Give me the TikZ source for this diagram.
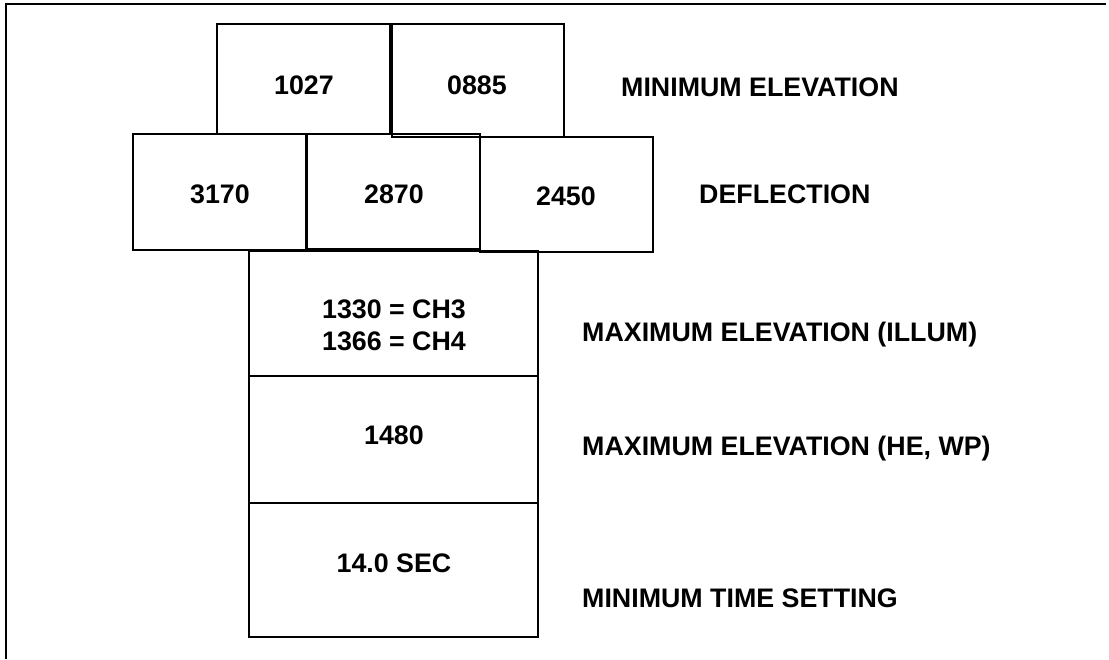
\documentclass[tikz,border=0pt]{standalone}
\usepackage{fontspec}
\setmainfont{Liberation Sans}

\tikzset{
  cell/.style={line width=1.2pt},
  val/.style={font=\fontsize{26.8}{32}\selectfont\bfseries, inner sep=0pt, anchor=base},
  lbl/.style={font=\fontsize{26.8}{32}\selectfont\bfseries, inner sep=0pt, anchor=base west},
}

\begin{document}
\begin{tikzpicture}[x=1pt,y=-1pt]
\useasboundingbox (0,0) rectangle (1109,659);
\draw[line width=2.2pt] (6,659) -- (6,4) -- (1106,4);
% minimum elevation
\draw[cell] (217,24) rectangle (390,134);
\draw[cell] (392,24) rectangle (564,137);
\node[val] (minelA) at (304,94) {1027};
\node[val] (minelB) at (477,94) {0885};
% deflection
\draw[cell] (133,134) rectangle (306,250);
\draw[cell] (307,134) rectangle (480,249);
\draw[cell] (480,137) rectangle (653,252);
\node[val] (deflA) at (220,203) {3170};
\node[val] (deflB) at (394,203) {2870};
\node[val] (deflC) at (566,205) {2450};
% column
\draw[cell] (249,251) rectangle (538,376);
\draw[cell] (249,376) rectangle (538,503);
\draw[cell] (249,503) rectangle (538,637);
\node[val, anchor=center, align=center] (maxillum) at (394,325) {1330 = CH3\\1366 = CH4};
\node[val] (maxhe) at (394,444) {1480};
\node[val] (mintime) at (394,572) {14.0 SEC};
% labels
\node[lbl] (lminel) at (621,96) {MINIMUM ELEVATION};
\node[lbl] (ldefl) at (699,203) {DEFLECTION};
\node[lbl] (lillum) at (582,341) {MAXIMUM ELEVATION (ILLUM)};
\node[lbl] (lhe) at (582,455) {MAXIMUM ELEVATION (HE, WP)};
\node[lbl] (ltime) at (582,607) {MINIMUM TIME SETTING};
\end{tikzpicture}
\end{document}
